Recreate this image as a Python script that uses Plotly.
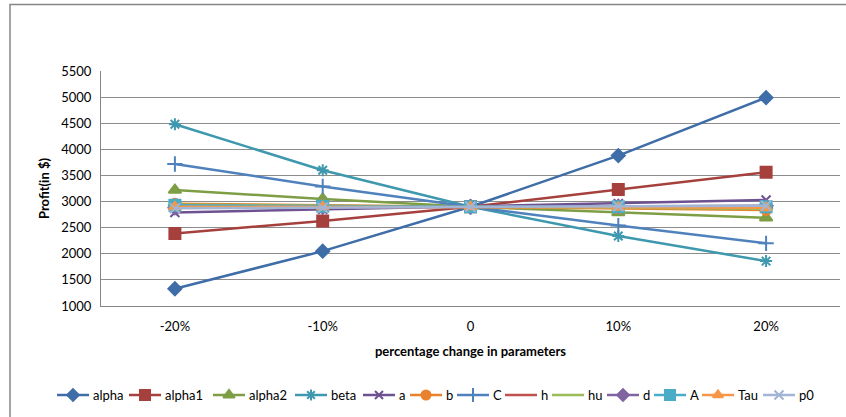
import plotly.graph_objects as go

# Percentage change applied to each parameter
categories = ["-20%", "-10%", "0", "10%", "20%"]

# Profit (in $) for each parameter
alpha = [1330, 2050, 2900, 3880, 4990]
alpha1 = [2390, 2630, 2900, 3230, 3560]
alpha2 = [3220, 3050, 2900, 2790, 2690]
beta = [4480, 3600, 2900, 2340, 1860]
a = [2790, 2850, 2900, 2960, 3030]
b = [2960, 2930, 2900, 2870, 2840]
C = [3720, 3290, 2900, 2540, 2200]
h = [2920, 2910, 2900, 2890, 2880]
hu = [2940, 2920, 2900, 2880, 2860]
d = [2880, 2890, 2900, 2910, 2920]
A = [2930, 2910, 2900, 2900, 2900]
Tau = [2900, 2900, 2900, 2890, 2880]
p0 = [2870, 2880, 2900, 2910, 2920]

y_ticks = [1000, 1500, 2000, 2500, 3000, 3500, 4000, 4500, 5000, 5500]

series = [
    ("alpha", alpha, "#3E6DA8", "diamond", 10),
    ("alpha1", alpha1, "#A5403D", "square", 11),
    ("alpha2", alpha2, "#7E9E45", "triangle-up", 11),
    ("beta", beta, "#3E98AE", "asterisk-open", 10),
    ("a", a, "#6E5191", "x-thin-open", 9),
    ("b", b, "#E9822E", "circle", 10),
    ("C", C, "#4F81BD", "cross-thin-open", 11),
    ("h", h, "#C0504D", "line-ew-open", 10),
    ("hu", hu, "#9BBB59", "line-ew-open", 10),
    ("d", d, "#8064A2", "diamond", 10),
    ("A", A, "#4BACC6", "square", 11),
    ("Tau", Tau, "#F79646", "triangle-up", 10),
    ("p0", p0, "#A2B5D5", "x-thin-open", 10),
]

# Legend layout (pixel coordinates of the whole figure): left end of each key line
W, H = 846, 417
legend_left = [57, 129, 213, 295, 363, 410, 457, 505, 552, 607, 654, 702, 763]
legend_y = 395
key_len = 32

fig = go.Figure()

# Hand-drawn one-row legend on an overlay axis spanning the whole figure
annotations = []
for (name, vals, color, symbol, size), x0 in zip(series, legend_left):
    fig.add_trace(go.Scatter(
        x=[x0, x0 + key_len], y=[legend_y] * 2,
        xaxis="x2", yaxis="y2", mode="lines",
        line=dict(color=color, width=2.5),
        showlegend=False, hoverinfo="skip",
    ))
    fig.add_trace(go.Scatter(
        x=[x0 + key_len / 2], y=[legend_y],
        xaxis="x2", yaxis="y2", mode="markers",
        marker=dict(symbol=symbol, size=size - 1, color=color, opacity=1,
                    line=dict(color=color, width=2)),
        showlegend=False, hoverinfo="skip",
    ))
    annotations.append(dict(
        x=x0 + key_len + 2, y=legend_y, xref="x2", yref="y2",
        text=name, showarrow=False, xanchor="left", yanchor="middle",
        font=dict(size=13),
    ))

for name, vals, color, symbol, size in series:
    fig.add_trace(go.Scatter(
        x=categories, y=vals, name=name, mode="lines+markers",
        line=dict(color=color, width=2.5),
        marker=dict(symbol=symbol, size=size, color=color,
                    line=dict(color=color, width=2)),
        showlegend=False,
    ))

font = "Lato, 'Open Sans', sans-serif"

fig.update_layout(
    width=W, height=H,
    margin=dict(l=0, r=0, t=0, b=0, autoexpand=False),
    paper_bgcolor="white", plot_bgcolor="rgba(0,0,0,0)",
    font=dict(family=font, size=13, color="#000000"),
    showlegend=False,
    xaxis=dict(
        domain=[101 / W, 840 / W],
        type="category", range=[-0.5, 4.5],
        showgrid=False, showline=True, linecolor="#868686", linewidth=1,
        ticks="", tickfont=dict(size=13), ticklabelstandoff=8,
        title=dict(text="<b>percentage change in parameters</b>",
                   font=dict(size=13), standoff=14),
        zeroline=False, automargin=False,
    ),
    yaxis=dict(
        domain=[(H - 306) / H, (H - 71) / H],
        range=[1000, 5500], tickvals=y_ticks,
        showgrid=True, gridcolor="#8C8C8C", gridwidth=1,
        showline=True, linecolor="#868686", linewidth=1,
        ticks="", tickfont=dict(size=13), ticklabelstandoff=6,
        title=dict(text="<b>Profit(in $)</b>", font=dict(size=13), standoff=8),
        zeroline=False, automargin=False,
    ),
    xaxis2=dict(domain=[0, 1], range=[0, W], visible=False, fixedrange=True),
    yaxis2=dict(domain=[0, 1], range=[H, 0], visible=False, fixedrange=True,
                anchor="x2"),
    annotations=annotations,
    shapes=[
        dict(type="rect", xref="x2", yref="y2",
             x0=10, x1=W + 20, y0=4.5, y1=H + 20,
             line=dict(color="#868686", width=1.5), fillcolor="rgba(0,0,0,0)",
             layer="below"),
    ],
)

fig.write_html("out.html")
